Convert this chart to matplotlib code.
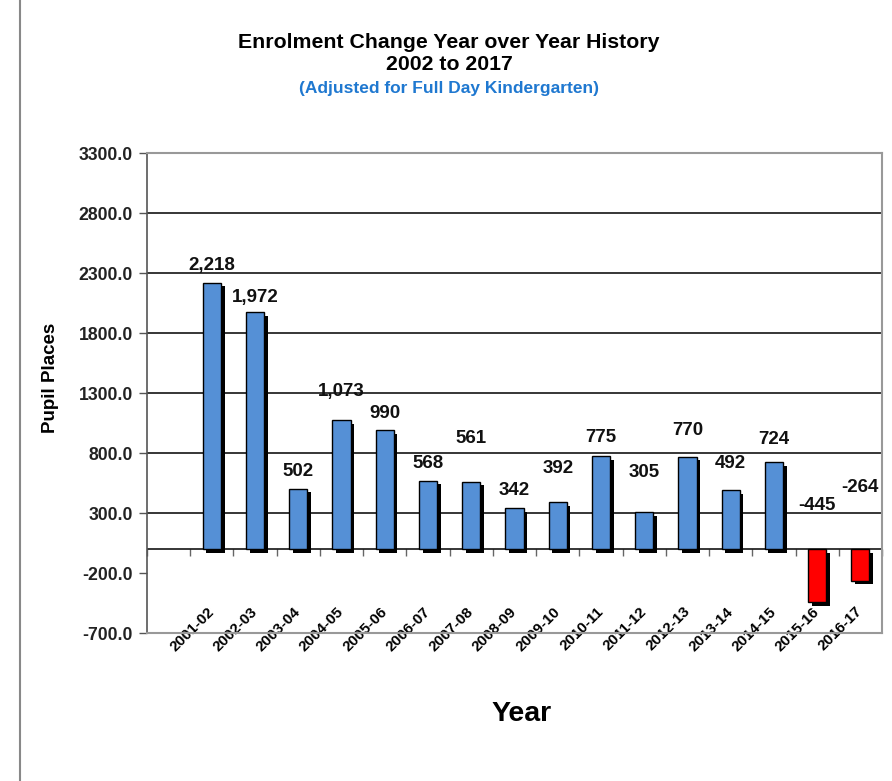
import matplotlib
matplotlib.use("Agg")
import matplotlib.pyplot as plt
import matplotlib.patheffects as pe
from matplotlib.lines import Line2D
import numpy as np

# ---- data ----
years = ["2001-02", "2002-03", "2003-04", "2004-05", "2005-06", "2006-07",
         "2007-08", "2008-09", "2009-10", "2010-11", "2011-12", "2012-13",
         "2013-14", "2014-15", "2015-16", "2016-17"]
changes = [2218, 1972, 502, 1073, 990, 568, 561, 342, 392, 775, 305, 770,
           492, 724, -445, -264]
y_ticks = [-700, -200, 300, 800, 1300, 1800, 2300, 2800, 3300]

# label offsets above bar tops (pixels) - styling only
label_dy = [17, 15, 17, 29, 17, 17, 43, 17, 33, 18, 40, 26, 26, 23, 43, 62]

FONT = "Liberation Sans"
plt.rcParams["font.family"] = [FONT, "DejaVu Sans"]

fig = plt.figure(figsize=(8.92, 7.81), dpi=100)
ax = fig.add_axes([147/892, 1-633/781, (882-147)/892, (633-153)/781])

x = np.arange(len(years))
colors = ["#5590D6" if v >= 0 else "#FF0000" for v in changes]
bars = ax.bar(x, changes, width=0.42, color=colors, edgecolor="black",
              linewidth=1.0, zorder=3)
for b in bars:
    b.set_path_effects([pe.SimplePatchShadow(offset=(2.6, -2.6),
                                              shadow_rgbFace="black", alpha=1.0),
                        pe.Normal()])

ax.set_xlim(-1.5, len(years) - 0.5)
ax.set_ylim(y_ticks[0], y_ticks[-1])
ax.set_yticks(y_ticks)
ax.set_yticklabels([f"{t:.1f}" for t in y_ticks], fontsize=12.7,
                   fontweight="bold", color="#222222")
ax.tick_params(axis="y", length=6, width=1, color="#555555", pad=4)

# gridlines (only at positive ticks like reference)
for t in y_ticks[2:-1]:
    ax.axhline(t, color="black", linewidth=1.1, zorder=1)
ax.axhline(0, color="black", linewidth=1.1, zorder=2)

for side in ["top", "right", "bottom"]:
    ax.spines[side].set_color("#999999")
    ax.spines[side].set_linewidth(1.5)
ax.spines["left"].set_color("#555555")
ax.spines["left"].set_linewidth(1.2)

# x tick labels
ax.set_xticks(x)
ax.set_xticklabels(years, rotation=45, ha="right", va="center",
                   rotation_mode="anchor", fontsize=10.9, fontweight="bold")
ax.tick_params(axis="x", length=0, pad=-17)

# tick marks at zero line at category boundaries
frac0 = (0 - y_ticks[0]) / (y_ticks[-1] - y_ticks[0])
sec = ax.secondary_xaxis(frac0)
sec.set_xticks(np.arange(-1.5, len(years), 1.0))
sec.set_xticklabels([])
sec.tick_params(axis="x", length=5, width=1, color="#666666", direction="out")
sec.spines["bottom"].set_visible(False)

# data labels
for xi, v, dy in zip(x, changes, label_dy):
    ax.annotate(f"{v:,}", xy=(xi, max(v, 0)), xytext=(0, dy),
                textcoords="offset pixels", ha="center", va="center",
                fontsize=13.5, fontweight="bold", color="#111111", zorder=5)

ax.set_ylabel("Pupil Places", fontsize=13.5, fontweight="bold")
ax.yaxis.set_label_coords((59 - 147) / 735, (633 - 378) / 480)

fig.text(522/892, 1-714/781, "Year", ha="center", va="center",
         fontsize=20.5, fontweight="bold")

fig.text(449/892, 1-42/781, "Enrolment Change Year over Year History",
         ha="center", va="center", fontsize=15.3, fontweight="bold")
fig.text(449/892, 1-65/781, "2002 to 2017", ha="center", va="center",
         fontsize=15.3, fontweight="bold")
fig.text(449/892, 1-88/781, "(Adjusted for Full Day Kindergarten)",
         ha="center", va="center", fontsize=12.5, fontweight="bold",
         color="#1F78D0")

# page border line on the left
fig.add_artist(Line2D([20/892, 20/892], [0, 1], color="#888888",
                      linewidth=1.5, transform=fig.transFigure))

fig.savefig("out.png", dpi=100)
